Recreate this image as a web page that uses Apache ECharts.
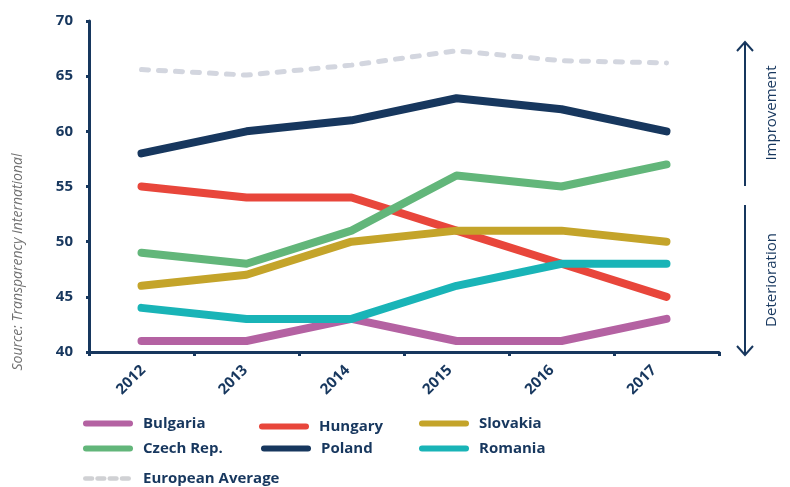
<!DOCTYPE html>
<html>
<head>
<meta charset="utf-8">
<script src="https://cdn.jsdelivr.net/npm/echarts@6/dist/echarts.min.js"></script>
<style>html,body{margin:0;padding:0;background:#fff;}#c{width:790px;height:487px;}</style>
</head>
<body>
<div id="c"></div>
<script>
var years = ['2012','2013','2014','2015','2016','2017'];
var bulgaria = [41, 41, 43, 41, 41, 43];
var hungary = [55, 54, 54, 51, 48, 45];
var slovakia = [46, 47, 50, 51, 51, 50];
var czech = [49, 48, 51, 56, 55, 57];
var poland = [58, 60, 61, 63, 62, 60];
var romania = [44, 43, 43, 46, 48, 48];
var euroAvg = [65.6, 65.1, 66.0, 67.3, 66.4, 66.2];
var yTicks = [40, 45, 50, 55, 60, 65, 70];

var navy = '#17375e';
var font = '"Open Sans", "Liberation Sans", sans-serif';

var seriesDefs = [
  {name: 'European Average', data: euroAvg, color: '#d3d6df', width: 5, type: [7, 10]},
  {name: 'Poland', data: poland, color: '#17375e', width: 8},
  {name: 'Hungary', data: hungary, color: '#e8463b', width: 8},
  {name: 'Czech Rep.', data: czech, color: '#62b67a', width: 8},
  {name: 'Slovakia', data: slovakia, color: '#c4a42a', width: 8},
  {name: 'Bulgaria', data: bulgaria, color: '#b462a2', width: 8},
  {name: 'Romania', data: romania, color: '#19b4b7', width: 8}
];

var legendPos = [
  {name: 'Bulgaria', left: 83, cy: 423},
  {name: 'Hungary', left: 259, cy: 426},
  {name: 'Slovakia', left: 419, cy: 423},
  {name: 'Czech Rep.', left: 83, cy: 448},
  {name: 'Poland', left: 261, cy: 448},
  {name: 'Romania', left: 419, cy: 448},
  {name: 'European Average', left: 83, cy: 478}
];

var solidIcon = 'path://M3,0 H47 A3,3 0 0 1 47,6 H3 A3,3 0 0 1 3,0 Z';
var dashIcon = 'path://M2,0 H9 A2,2 0 0 1 9,5 H2 A2,2 0 0 1 2,0 Z M15,0 H22 A2,2 0 0 1 22,5 H15 A2,2 0 0 1 15,0 Z M28,0 H35 A2,2 0 0 1 35,5 H28 A2,2 0 0 1 28,0 Z M41,0 H48 A2,2 0 0 1 48,5 H41 A2,2 0 0 1 41,0 Z';

var series = seriesDefs.map(function (d) {
  return {
    name: d.name, type: 'line', data: d.data,
    symbol: 'none', showSymbol: false,
    xAxisIndex: 0, yAxisIndex: 0,
    lineStyle: {color: d.color, width: d.width, type: d.type || 'solid', cap: 'round', join: 'round'},
    itemStyle: {color: d.name === 'European Average' ? '#d0d1d4' : d.color},
    emphasis: {disabled: true},
    silent: true
  };
});

var legends = legendPos.map(function (p) {
  var isDash = p.name === 'European Average';
  return {
    data: [p.name], left: p.left, top: p.cy - 8, padding: 0,
    icon: isDash ? dashIcon : solidIcon,
    itemWidth: isDash ? 48 : 50, itemHeight: isDash ? 5 : 6, itemGap: 0,
    selectedMode: false,
    textStyle: {color: navy, fontFamily: font, fontWeight: 'bold', fontSize: 15, lineHeight: 17,
                padding: [0, 0, 0, isDash ? 7 : 5]}
  };
});

var chart = echarts.init(document.getElementById('c'), null, {renderer: 'canvas'});
chart.setOption({
  animation: false,
  backgroundColor: '#fff',
  grid: [
    {left: 89, right: 71, top: 21, bottom: 135, containLabel: false},
    {left: 80, right: 97, top: 21, bottom: 135, containLabel: false}
  ],
  xAxis: [{
    gridIndex: 0, type: 'category', data: years, boundaryGap: true,
    axisLine: {lineStyle: {color: navy, width: 3}},
    axisTick: {show: true, length: 4, lineStyle: {color: navy, width: 3}},
    axisLabel: {show: false}
  }, {
    gridIndex: 1, type: 'category', data: years, boundaryGap: true,
    axisLine: {show: false}, axisTick: {show: false}, splitLine: {show: false},
    axisLabel: {rotate: 45, margin: 28, align: 'center', verticalAlign: 'middle',
                color: navy, fontFamily: font, fontWeight: 'bold', fontSize: 15}
  }],
  yAxis: [{
    gridIndex: 0, type: 'value', min: yTicks[0], max: yTicks[yTicks.length - 1], interval: 5,
    splitLine: {show: false},
    axisLine: {show: true, lineStyle: {color: navy, width: 3}},
    axisTick: {show: true, length: 3, lineStyle: {color: navy, width: 3}},
    axisLabel: {margin: 16, color: navy, fontFamily: font, fontWeight: 'bold', fontSize: 15}
  }, {
    gridIndex: 1, type: 'value', min: yTicks[0], max: yTicks[yTicks.length - 1], interval: 5, show: false
  }],
  legend: legends,
  series: series,
  graphic: [
    {type: 'text', x: 18, y: 262, rotation: Math.PI / 2, silent: true,
     style: {text: 'Source: Transparency International', fill: '#707070', font: 'italic 14px ' + font,
             textAlign: 'center', textVerticalAlign: 'middle'}},
    {type: 'line', silent: true, shape: {x1: 745, y1: 42, x2: 745, y2: 186},
     style: {stroke: navy, lineWidth: 2}},
    {type: 'polyline', silent: true, shape: {points: [[737, 51], [745, 42], [753, 51]]},
     style: {stroke: navy, lineWidth: 2, fill: null}},
    {type: 'line', silent: true, shape: {x1: 745, y1: 205, x2: 745, y2: 355},
     style: {stroke: navy, lineWidth: 2}},
    {type: 'polyline', silent: true, shape: {points: [[737, 346], [745, 355], [753, 346]]},
     style: {stroke: navy, lineWidth: 2, fill: null}},
    {type: 'text', x: 772, y: 113, rotation: Math.PI / 2, silent: true,
     style: {text: 'Improvement', fill: navy, font: '15px ' + font, textAlign: 'center', textVerticalAlign: 'middle'}},
    {type: 'text', x: 772, y: 280, rotation: Math.PI / 2, silent: true,
     style: {text: 'Deterioration', fill: navy, font: '15px ' + font, textAlign: 'center', textVerticalAlign: 'middle'}}
  ]
});
</script>
</body>
</html>
